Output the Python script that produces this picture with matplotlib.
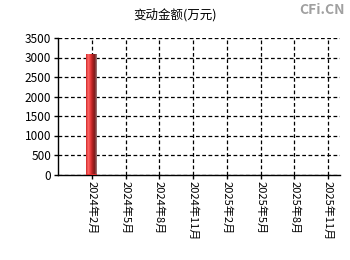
import matplotlib
matplotlib.use("Agg")
import matplotlib.pyplot as plt
import numpy as np
from matplotlib.colors import LinearSegmentedColormap

plt.rcParams['font.family'] = ['Noto Sans CJK SC', 'DejaVu Sans']

categories = ["2024年2月", "2024年5月", "2024年8月", "2024年11月",
              "2025年2月", "2025年5月", "2025年8月", "2025年11月"]
values = [3090, 0, 0, 0, 0, 0, 0, 0]
yticks = [0, 500, 1000, 1500, 2000, 2500, 3000, 3500]

fig = plt.figure(figsize=(3.5, 2.6), dpi=100)
ax = fig.add_axes([58/350, 1-174.5/260, (340-58)/350, (174.5-38)/260])

x = np.arange(len(categories))
bars = ax.bar(x, values, width=0.32, color="#e03030", zorder=3)

cmap = LinearSegmentedColormap.from_list("g", ["#d02828", "#ff6a6a", "#e83a3a", "#b02020", "#7a1a1a", "#a08080"])
grad = np.linspace(0, 1, 64).reshape(1, -1)
for b in bars:
    if b.get_height() <= 0:
        continue
    x0, w, h = b.get_x(), b.get_width(), b.get_height()
    im = ax.imshow(grad, cmap=cmap, aspect="auto", extent=[x0, x0 + w, 0, h], zorder=4)
    im.set_clip_path(b)

ax.set_xlim(-1, 7.35)
ax.set_ylim(0, 3500)
ax.set_yticks(yticks)
ax.set_yticklabels([str(t) for t in yticks], fontsize=8.5)
ax.set_xticks(x)
ax.set_xticklabels(categories, rotation=270, fontsize=8)
ax.tick_params(axis='both', direction='out', length=3, width=1, pad=2, colors='black')

ax.grid(True, linestyle=(0, (3, 2)), color='black', linewidth=0.9, zorder=1)
ax.spines['top'].set_visible(False)
ax.spines['right'].set_visible(False)
ax.spines['left'].set_linewidth(1)
ax.spines['bottom'].set_linewidth(1)

fig.text(0.5, 1 - 15/260, "变动金额(万元)", ha='center', va='center', fontsize=9)
fig.text(0.985, 1 - 10/260, "CFi.CN", ha='right', va='center', fontsize=10, color='#a0a0a0', fontweight='bold')

fig.savefig("out.png", dpi=100)
